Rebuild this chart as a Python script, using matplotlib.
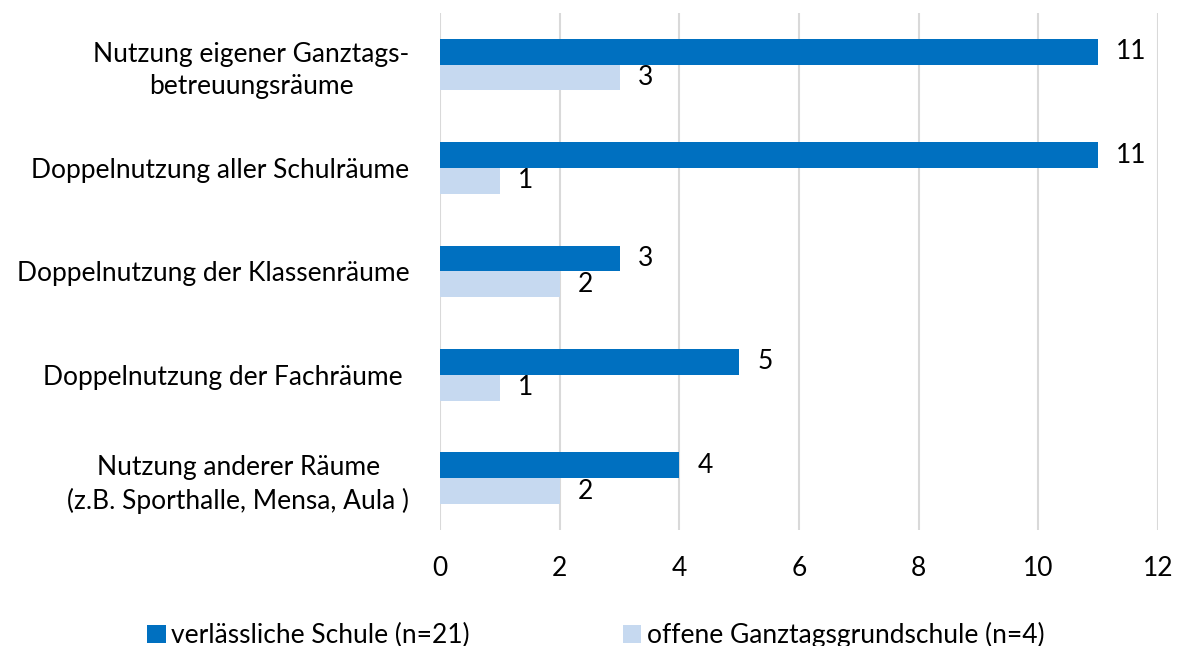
import numpy as np
import matplotlib.pyplot as plt

plt.rcParams['font.family'] = ['Lato', 'DejaVu Sans']

categories = ['Nutzung eigener Ganztags-\nbetreuungsräume',
              'Doppelnutzung aller Schulräume',
              'Doppelnutzung der Klassenräume',
              'Doppelnutzung der Fachräume ',
              'Nutzung anderer Räume\n(z.B. Sporthalle, Mensa, Aula )']
verlaessliche = [11, 11, 3, 5, 4]
offene = [3, 1, 2, 1, 2]
series_names = ['verlässliche Schule (n=21)', 'offene Ganztagsgrundschule (n=4)']

dark = '#0070C0'
light = '#C6D9F0'
fs = 19

fig = plt.figure(figsize=(11.8, 6.46), dpi=100)
ax = fig.add_axes([0.3729, 0.1796, 0.6085, 0.8004])

y = np.arange(len(categories))
h = 0.25
b1 = ax.barh(y - h / 2, verlaessliche, height=h, color=dark, label=series_names[0], zorder=3)
b2 = ax.barh(y + h / 2, offene, height=h, color=light, label=series_names[1], zorder=3)

for bars in (b1, b2):
    for rect in bars:
        w = rect.get_width()
        ax.text(w + 0.3, rect.get_y() + rect.get_height() / 2, f'{w:g}',
                va='center', ha='left', fontsize=fs)

ax.set_xlim(0, 12)
ax.set_ylim(len(categories) - 0.5, -0.5)
ax.set_xticks(range(0, 13, 2))
ax.set_yticks(y)
ax.set_yticklabels(categories, fontsize=fs, multialignment='center', linespacing=1.35)
ax.tick_params(axis='x', labelsize=fs, length=0, pad=19)
ax.tick_params(axis='y', length=0, pad=22)
ax.grid(axis='x', color='#D9D9D9', linewidth=1.5, zorder=0)
for s in ax.spines.values():
    s.set_visible(False)

fig.legend(handles=[b1, b2], loc='lower center', bbox_to_anchor=(0.505, -0.04), ncol=2,
           frameon=False, fontsize=fs, handlelength=0.7, handleheight=0.7,
           handletextpad=0.2, columnspacing=5.8)

fig.savefig('out.png', dpi=100)
